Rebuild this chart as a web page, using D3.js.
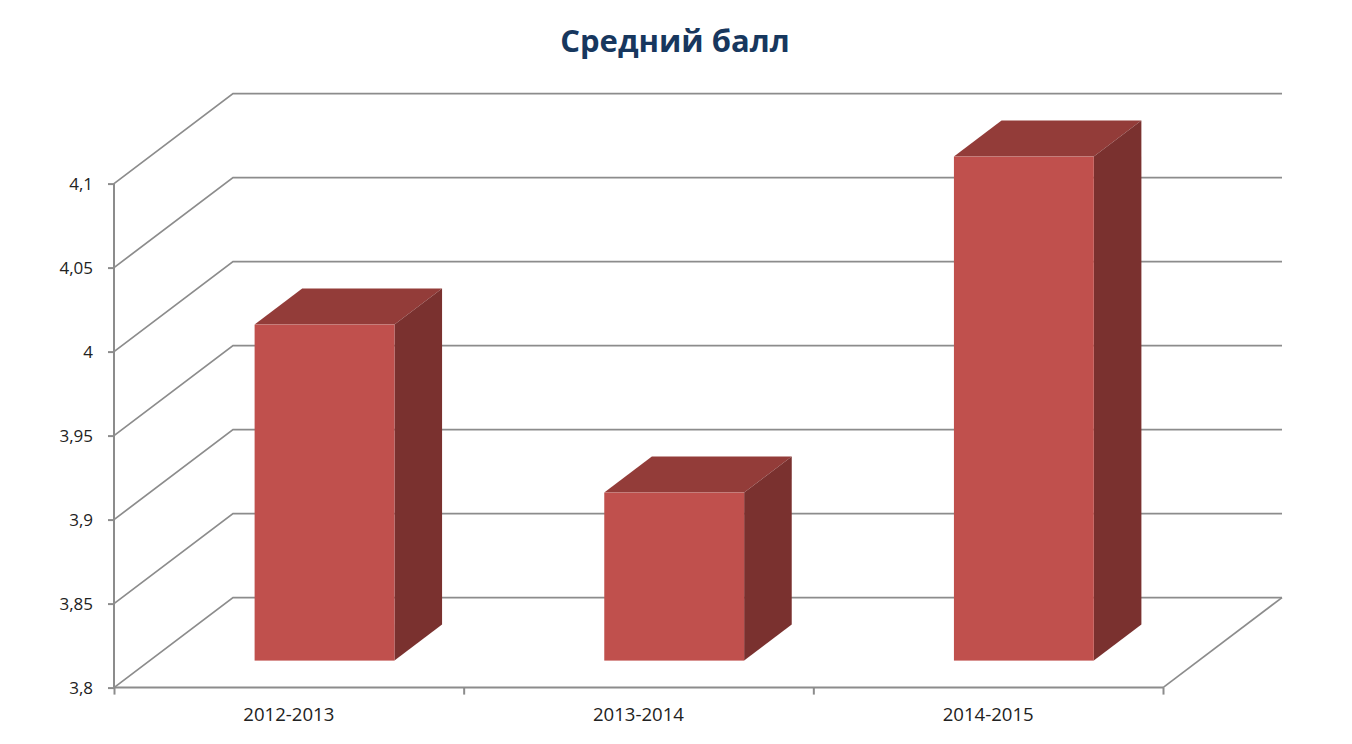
<!DOCTYPE html>
<html><head><meta charset="utf-8">
<script src="https://cdn.jsdelivr.net/npm/d3@7/dist/d3.min.js"></script>
<style>
html,body{margin:0;padding:0;background:#fff;overflow:hidden}
svg{display:block}
text{font-family:"Open Sans","Noto Sans",sans-serif}
</style></head><body>
<svg id="c" width="1352" height="744"></svg>
<script>
const categories = ["2012-2013","2013-2014","2014-2015"];
const values = [4.0,3.9,4.1];
const tickValues = [3.8,3.85,3.9,3.95,4,4.05,4.1];
const tickLabels = ["3,8","3,85","3,9","3,95","4","4,05","4,1"];
const title = "Средний балл";

const W=1352,H=744;
const x0=114,x1=1163,y0=687.6,y1=183.6,depthX=119,depthY=90;
const gridColor="#8c8c8c";
const svg=d3.select("#c");
const x=d3.scaleBand().domain(categories).range([x0,x1]).paddingInner(0.6).paddingOuter(0.3);
const xEdge=d3.scaleLinear().domain([0,categories.length]).range([x0,x1]);
const y=d3.scaleLinear().domain([3.8,4.1]).range([y0,y1]);

svg.append("text").attr("x",675).attr("y",52).attr("text-anchor","middle")
  .attr("font-size",31).attr("font-weight",700).attr("fill","#17375E").text(title);

// walls
const g=svg.append("g").attr("stroke",gridColor).attr("stroke-width",1.7).attr("fill","none");
tickValues.forEach(v=>{
  g.append("path").attr("d",`M${x0},${y(v)}L${x0+depthX},${y(v)-depthY}L${x0+depthX+(x1-x0)},${y(v)-depthY}`);
});
g.append("path").attr("d",`M${x1},${y0}L${x1+depthX},${y0-depthY}`);
// axes
const yAxis=d3.axisLeft(y).tickValues(tickValues).tickSize(6).tickPadding(15)
  .tickFormat((d,i)=>tickLabels[i]);
const ya=svg.append("g").attr("transform",`translate(${x0},0)`).call(yAxis);
const xAxis=d3.axisBottom(xEdge).tickValues(d3.range(categories.length+1)).tickSize(7).tickFormat("");
const xa=svg.append("g").attr("transform",`translate(0,${y0})`).call(xAxis);
[ya,xa].forEach(a=>{
  a.selectAll("path.domain").attr("stroke",gridColor).attr("stroke-width",2);
  a.selectAll("line").attr("stroke",gridColor).attr("stroke-width",2);
});
ya.selectAll("path.domain").attr("d",`M0,${y1}V${y0}`);
xa.selectAll("path.domain").attr("d",`M${x0},0H${x1}`);
ya.selectAll("text").attr("font-size",17).attr("fill","#222").attr("font-family",'"Open Sans",sans-serif');
svg.append("g").selectAll("text").data(categories).join("text")
  .attr("x",d=>x(d)+x.bandwidth()/2).attr("y",721).attr("text-anchor","middle")
  .attr("font-size",18.6).attr("fill","#222").text(d=>d);

// bars
const t0=0.3,t1=0.7;
const bars=svg.append("g").selectAll("g").data(categories.map((c,i)=>({c,v:values[i]}))).join("g");
const fx=d=>x(d.c)+depthX*t0, w=x.bandwidth();
const bot=()=>y0-depthY*t0, top_=d=>y(d.v)-depthY*t0;
const dX=depthX*(t1-t0), dY=depthY*(t1-t0);
bars.append("path").attr("fill","#933C39")
  .attr("d",d=>`M${fx(d)},${top_(d)}l${dX},${-dY}h${w}l${-dX},${dY}Z`);
bars.append("path").attr("fill","#7A312F")
  .attr("d",d=>`M${fx(d)+w},${top_(d)}l${dX},${-dY}V${bot()-dY}l${-dX},${dY}Z`);
bars.append("rect").attr("fill","#C0504D")
  .attr("x",fx).attr("y",top_).attr("width",w).attr("height",d=>bot()-top_(d));
</script>
</body></html>
